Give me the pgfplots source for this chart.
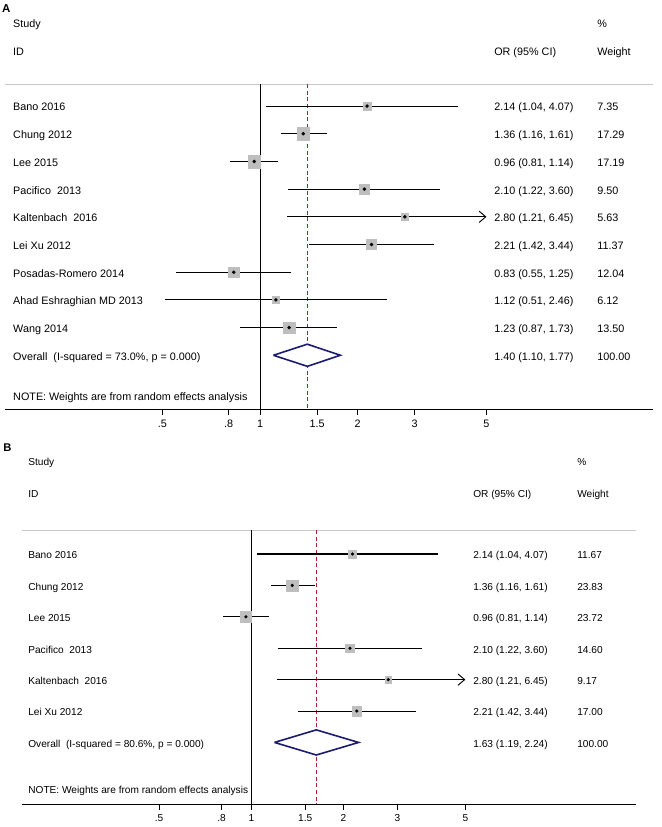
\documentclass[border=0pt]{standalone}
\usepackage{pgfplots}
\pgfplotsset{compat=1.18}
\usepackage{pgfplotstable}
\usetikzlibrary{arrows.meta}
\usepackage{fontspec}
\setmainfont{Liberation Sans}
\definecolor{boxgray}{RGB}{190,190,190}
\definecolor{dmdblue}{RGB}{28,28,110}
\definecolor{refred}{RGB}{175,30,45}
\definecolor{divgray}{RGB}{200,200,200}

% Panel A: y = -row, OR, 95% CI, weight (%)
\pgfplotstableread{
y or lo hi w
-1 2.14 1.04 4.07 7.35
-2 1.36 1.16 1.61 17.29
-3 0.96 0.81 1.14 17.19
-4 2.10 1.22 3.60 9.50
-5 2.80 1.21 6.45 5.63
-6 2.21 1.42 3.44 11.37
-7 0.83 0.55 1.25 12.04
-8 1.12 0.51 2.46 6.12
-9 1.23 0.87 1.73 13.50
}\tabA

% Panel B
\pgfplotstableread{
y or lo hi w
-1 2.14 1.04 4.07 11.67
-2 1.36 1.16 1.61 23.83
-3 0.96 0.81 1.14 23.72
-4 2.10 1.22 3.60 14.60
-5 2.80 1.21 6.45 9.17
-6 2.21 1.42 3.44 17.00
}\tabB

\tikzset{
  lblA/.style={anchor=west, inner sep=0pt, font=\fontsize{8.1}{10}\selectfont, text height=1.8ex, text depth=0.4ex},
  lblB/.style={anchor=west, inner sep=0pt, font=\fontsize{7.6}{9}\selectfont, text height=1.8ex, text depth=0.4ex},
}

\begin{document}
\begin{tikzpicture}
\path[use as bounding box] (0,0) rectangle (495.75pt,620.25pt);

%================ Panel A =================
\begin{axis}[
  at={(3.75pt,313.5pt)}, anchor=south west,
  width=486pt, height=306.75pt, scale only axis,
  xmode=log, xmin=0.1633, xmax=16.33, ymin=-11.94, ymax=2.83,
  axis x line=bottom, axis y line=none,
  x axis line style={-, line width=0.6pt},
  xtick={0.5,0.8,1,1.5,2,3,5}, xticklabels={.5,.8,1,1.5,2,3,5},
  xminorticks=false,
  tick align=outside, major tick length=4.5pt,
  tick style={black, line width=0.6pt},
  xticklabel style={font=\fontsize{8.1}{10}\selectfont},
  clip=false,
]
\draw[divgray, line width=0.6pt] (axis cs:0.1633,-0.206) -- (axis cs:16.33,-0.206);
\addplot[black, line width=0.7pt, forget plot] coordinates {(1,-0.206) (1,-11.94)};
\addplot[refred, line width=0.65pt, dash pattern=on 3pt off 2pt, forget plot] coordinates {(1.40,-0.206) (1.40,-11.94)};
% weight boxes
\addplot[scatter, only marks, mark=square*,
  scatter/use mapped color={draw=boxgray, fill=boxgray},
  visualization depends on={1.15*sqrt(\thisrow{w}) \as \msz},
  scatter/@pre marker code/.append style={/tikz/mark size=\msz pt}]
  table[x=or, y=y] {\tabA};
% confidence intervals (upper limit truncated at 5)
\addplot[draw=none, mark=none,
  error bars/.cd, x dir=both, x explicit, error mark=none,
  error bar style={draw=black, line width=0.8pt, solid}]
  table[x=or, y=y,
        x error plus expr={min(\thisrow{hi},5)-\thisrow{or}},
        x error minus expr={\thisrow{or}-\thisrow{lo}}] {\tabA};
\addplot[only marks, mark=*, mark size=1.1pt, black] table[x=or, y=y] {\tabA};
\addplot[black, line width=0.7pt, -{Straight Barb[length=5pt, width=8.5pt]}] coordinates {(4.5,-5) (5,-5)};
% overall diamond
\addplot[dmdblue, line width=1.2pt, fill=white, line join=miter] coordinates {(1.10,-10) (1.40,-9.6) (1.77,-10) (1.40,-10.4) (1.10,-10)};

\node[lblA, font=\fontsize{8.6}{10}\selectfont\bfseries] at (axis cs:0.1598,2.54) {A};
\node[lblA] at (axis cs:0.1728,2.03) {Study};
\node[lblA] at (axis cs:0.1728,0.986) {ID};
\node[lblA] at (axis cs:5.276,0.986) {OR (95\% CI)};
\node[lblA] at (axis cs:10.97,2.03) {\%};
\node[lblA] at (axis cs:10.97,0.986) {Weight};

\node[lblA] at (axis cs:0.1728,-1) {Bano 2016};
\node[lblA] at (axis cs:0.1728,-2) {Chung 2012};
\node[lblA] at (axis cs:0.1728,-3) {Lee 2015};
\node[lblA] at (axis cs:0.1728,-4) {Pacifico\ \ 2013};
\node[lblA] at (axis cs:0.1728,-5) {Kaltenbach\ \ 2016};
\node[lblA] at (axis cs:0.1728,-6) {Lei Xu 2012};
\node[lblA] at (axis cs:0.1728,-7) {Posadas-Romero 2014};
\node[lblA] at (axis cs:0.1728,-8) {Ahad Eshraghian MD 2013};
\node[lblA] at (axis cs:0.1728,-9) {Wang 2014};
\node[lblA] at (axis cs:0.1728,-10) {Overall\ \ (I-squared = 73.0\%, p = 0.000)};
\node[lblA] at (axis cs:0.1728,-11.47) {NOTE: Weights are from random effects analysis};

\node[lblA] at (axis cs:5.276,-1) {2.14 (1.04, 4.07)};
\node[lblA] at (axis cs:5.276,-2) {1.36 (1.16, 1.61)};
\node[lblA] at (axis cs:5.276,-3) {0.96 (0.81, 1.14)};
\node[lblA] at (axis cs:5.276,-4) {2.10 (1.22, 3.60)};
\node[lblA] at (axis cs:5.276,-5) {2.80 (1.21, 6.45)};
\node[lblA] at (axis cs:5.276,-6) {2.21 (1.42, 3.44)};
\node[lblA] at (axis cs:5.276,-7) {0.83 (0.55, 1.25)};
\node[lblA] at (axis cs:5.276,-8) {1.12 (0.51, 2.46)};
\node[lblA] at (axis cs:5.276,-9) {1.23 (0.87, 1.73)};
\node[lblA] at (axis cs:5.276,-10) {1.40 (1.10, 1.77)};

\node[lblA] at (axis cs:10.97,-1) {7.35};
\node[lblA] at (axis cs:10.97,-2) {17.29};
\node[lblA] at (axis cs:10.97,-3) {17.19};
\node[lblA] at (axis cs:10.97,-4) {9.50};
\node[lblA] at (axis cs:10.97,-5) {5.63};
\node[lblA] at (axis cs:10.97,-6) {11.37};
\node[lblA] at (axis cs:10.97,-7) {12.04};
\node[lblA] at (axis cs:10.97,-8) {6.12};
\node[lblA] at (axis cs:10.97,-9) {13.50};
\node[lblA] at (axis cs:10.97,-10) {100.00};
\end{axis}

%================ Panel B =================
\begin{axis}[
  at={(16.5pt,17.25pt)}, anchor=south west,
  width=460.5pt, height=276.75pt, scale only axis,
  xmode=log, xmin=0.1783, xmax=18.04, ymin=-8.96, ymax=2.79,
  axis x line=bottom, axis y line=none,
  x axis line style={-, line width=0.6pt},
  xtick={0.5,0.8,1,1.5,2,3,5}, xticklabels={.5,.8,1,1.5,2,3,5},
  xminorticks=false,
  tick align=outside, major tick length=4.2pt,
  tick style={black, line width=0.6pt},
  xticklabel style={font=\fontsize{7.6}{9}\selectfont},
  clip=false,
]
\draw[divgray, line width=0.6pt] (axis cs:0.1783,-0.236) -- (axis cs:18.04,-0.236);
\addplot[black, line width=0.7pt, forget plot] coordinates {(1,-0.236) (1,-8.96)};
\addplot[refred, line width=0.65pt, dash pattern=on 3pt off 2pt, forget plot] coordinates {(1.63,-0.236) (1.63,-8.96)};
\addplot[scatter, only marks, mark=square*,
  scatter/use mapped color={draw=boxgray, fill=boxgray},
  visualization depends on={0.86*sqrt(\thisrow{w}) \as \msz},
  scatter/@pre marker code/.append style={/tikz/mark size=\msz pt}]
  table[x=or, y=y] {\tabB};
\addplot[draw=none, mark=none,
  error bars/.cd, x dir=both, x explicit, error mark=none,
  error bar style={draw=black, line width=0.8pt, solid}]
  table[x=or, y=y,
        x error plus expr={min(\thisrow{hi},5)-\thisrow{or}},
        x error minus expr={\thisrow{or}-\thisrow{lo}}] {\tabB};
\addplot[only marks, mark=*, mark size=1.0pt, black] table[x=or, y=y] {\tabB};
\addplot[black, line width=0.7pt, -{Straight Barb[length=5pt, width=8.5pt]}] coordinates {(4.5,-5) (5,-5)};
\addplot[dmdblue, line width=1.2pt, fill=white, line join=miter] coordinates {(1.19,-7) (1.63,-6.6) (2.24,-7) (1.63,-7.4) (1.19,-7)};

\node[lblB, font=\fontsize{8.4}{10}\selectfont\bfseries] at (axis cs:0.1546,2.41) {B};
\node[lblB] at (axis cs:0.1866,1.96) {Study};
\node[lblB] at (axis cs:0.1866,0.97) {ID};
\node[lblB] at (axis cs:5.297,0.97) {OR (95\% CI)};
\node[lblB] at (axis cs:11.58,1.96) {\%};
\node[lblB] at (axis cs:11.58,0.97) {Weight};

\node[lblB] at (axis cs:0.1866,-1) {Bano 2016};
\node[lblB] at (axis cs:0.1866,-2) {Chung 2012};
\node[lblB] at (axis cs:0.1866,-3) {Lee 2015};
\node[lblB] at (axis cs:0.1866,-4) {Pacifico\ \ 2013};
\node[lblB] at (axis cs:0.1866,-5) {Kaltenbach\ \ 2016};
\node[lblB] at (axis cs:0.1866,-6) {Lei Xu 2012};
\node[lblB] at (axis cs:0.1866,-7) {Overall\ \ (I-squared = 80.6\%, p = 0.000)};
\node[lblB] at (axis cs:0.1866,-8.48) {NOTE: Weights are from random effects analysis};

\node[lblB] at (axis cs:5.297,-1) {2.14 (1.04, 4.07)};
\node[lblB] at (axis cs:5.297,-2) {1.36 (1.16, 1.61)};
\node[lblB] at (axis cs:5.297,-3) {0.96 (0.81, 1.14)};
\node[lblB] at (axis cs:5.297,-4) {2.10 (1.22, 3.60)};
\node[lblB] at (axis cs:5.297,-5) {2.80 (1.21, 6.45)};
\node[lblB] at (axis cs:5.297,-6) {2.21 (1.42, 3.44)};
\node[lblB] at (axis cs:5.297,-7) {1.63 (1.19, 2.24)};

\node[lblB] at (axis cs:11.58,-1) {11.67};
\node[lblB] at (axis cs:11.58,-2) {23.83};
\node[lblB] at (axis cs:11.58,-3) {23.72};
\node[lblB] at (axis cs:11.58,-4) {14.60};
\node[lblB] at (axis cs:11.58,-5) {9.17};
\node[lblB] at (axis cs:11.58,-6) {17.00};
\node[lblB] at (axis cs:11.58,-7) {100.00};
\end{axis}
\end{tikzpicture}
\end{document}
